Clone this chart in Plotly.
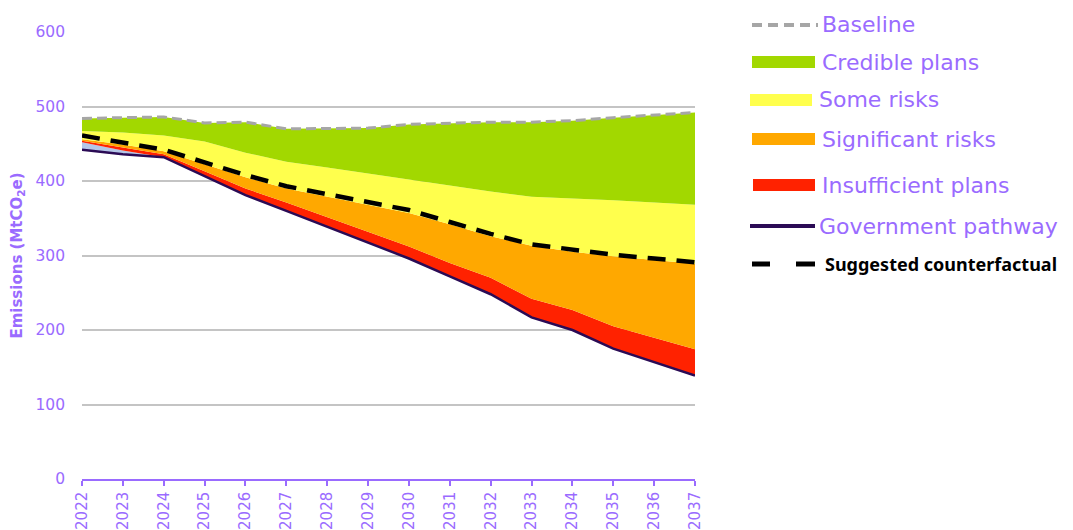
import plotly.graph_objects as go

years = list(range(2022, 2038))
baseline = [484, 485, 486, 478, 479, 470, 471, 471, 476, 478, 479, 479, 481, 485, 488, 492]
yellow_top = [467, 465, 461, 453, 438, 426, 418, 410, 401, 393, 386, 379, 377, 374, 371, 368]
orange_top = [456, 449, 440, 423, 405, 390, 379, 369, 357, 342, 326, 313, 305, 299, 294, 289]
red_top = [454, 445, 436, 413, 390, 371, 351, 331, 312, 290, 270, 242, 227, 205, 189, 174]
blue_top = [452, 441, 432, 407, 381, 360, 339, 317, 296, 272, 248, 217, 200, 175, 157, 139]
government = [442, 436, 432, 407, 381, 360, 339, 317, 296, 272, 248, 217, 200, 175, 157, 139]
counterfactual = [461, 452, 442, 425, 408, 393, 382, 372, 361, 345, 329, 315, 308, 301, 296, 291]

legend_labels = ["Baseline", "Credible plans", "Some risks", "Significant risks",
                 "Insufficient plans", "Government pathway", "Suggested counterfactual"]
y_ticks = [0, 100, 200, 300, 400, 500, 600]

PURPLE = "#9a6bff"
GREEN = "#a2d800"
YELLOW = "#ffff4d"
ORANGE = "#ffa800"
RED = "#ff2200"
BLUE = "#b4c6e7"
GOV = "#2b0b55"
GREY = "#a6a6a6"

fig = go.Figure()

def area(y, color):
    fig.add_trace(go.Scatter(x=years, y=y, mode="lines", line=dict(width=0, color=color),
                             fill="tonexty", fillcolor=color, hoverinfo="skip", showlegend=False))

fig.add_trace(go.Scatter(x=years, y=government, mode="lines", line=dict(width=0),
                         hoverinfo="skip", showlegend=False))
area(blue_top, BLUE)
area(red_top, RED)
area(orange_top, ORANGE)
area(yellow_top, YELLOW)
area(baseline, GREEN)

fig.add_trace(go.Scatter(x=years, y=baseline, mode="lines",
                         line=dict(color=GREY, width=3, dash="10px,5px"), showlegend=False))
fig.add_trace(go.Scatter(x=years, y=counterfactual, mode="lines",
                         line=dict(color="black", width=4.5, dash="18px,11px"), showlegend=False))
fig.add_trace(go.Scatter(x=years, y=government, mode="lines",
                         line=dict(color=GOV, width=2.5), showlegend=False))

# page has an 8px body margin: figure is drawn offset by (8, 8)
OFF = 8
W = 1073 - OFF
H = 530 - OFF
ml, mr, mt, mb = 82 - OFF, 1073 - 695, 32 - OFF, 530 - 479
pw = W - ml - mr
ph = H - mt - mb

def px(x):
    return (x - OFF - ml) / pw

def py(y):
    return 1 - (y - OFF - mt) / ph

items = [
    ("dash", GREY, 25, 752, 818, 822),
    ("rect", GREEN, 62, 752, 815, 822),
    ("rect", YELLOW, 100, 750, 812, 819),
    ("rect", ORANGE, 139, 752, 815, 822),
    ("rect", RED, 185, 753, 815, 822),
    ("line", GOV, 226, 750, 815, 819),
    ("cf", "black", 264, 752, 815, 825),
]
for (kind, col, yc, xa, xb, xt), label in zip(items, legend_labels):
    if kind == "rect":
        fig.add_shape(type="rect", xref="paper", yref="paper",
                      x0=px(xa), x1=px(xb), y0=py(yc + 6), y1=py(yc - 6),
                      fillcolor=col, line=dict(width=0))
    elif kind == "dash":
        fig.add_shape(type="line", xref="paper", yref="paper",
                      x0=px(xa), x1=px(xb), y0=py(yc), y1=py(yc),
                      line=dict(color=col, width=4, dash="10px,6px"))
    elif kind == "line":
        fig.add_shape(type="line", xref="paper", yref="paper",
                      x0=px(xa), x1=px(xb), y0=py(yc), y1=py(yc),
                      line=dict(color=col, width=4))
    else:
        fig.add_shape(type="line", xref="paper", yref="paper",
                      x0=px(xa), x1=px(770), y0=py(yc), y1=py(yc),
                      line=dict(color=col, width=5))
        fig.add_shape(type="line", xref="paper", yref="paper",
                      x0=px(796), x1=px(xb), y0=py(yc), y1=py(yc),
                      line=dict(color=col, width=5))
    if kind == "cf":
        fig.add_annotation(xref="paper", yref="paper", x=px(xt), y=py(yc), text="<b>" + label + "</b>",
                           showarrow=False, xanchor="left", yanchor="middle", xshift=-2,
                           font=dict(family="Noto Sans", size=18, color="black"))
    else:
        fig.add_annotation(xref="paper", yref="paper", x=px(xt), y=py(yc), text=label,
                           showarrow=False, xanchor="left", yanchor="middle", xshift=-2,
                           font=dict(family="DejaVu Sans", size=22, color=PURPLE))

fig.update_layout(
    width=W, height=H,
    margin=dict(l=ml, r=mr, t=mt, b=mb, autoexpand=False),
    paper_bgcolor="white", plot_bgcolor="white",
    font=dict(family="DejaVu Sans", color=PURPLE),
    showlegend=False,
    xaxis=dict(range=[2022, 2037], tickvals=years, ticktext=[str(y) for y in years],
               tickangle=-90, showgrid=False, zeroline=False, showline=True, automargin=False,
               linecolor=PURPLE, linewidth=1.5, ticks="outside", ticklen=5,
               tickcolor=PURPLE, tickwidth=1.5, tickfont=dict(size=15, color=PURPLE)),
    yaxis=dict(range=[0, 600], tickvals=y_ticks, showgrid=True, gridcolor="#c4c4c4",
               gridwidth=2, zeroline=False, showline=False, ticks="", automargin=False,
               tickfont=dict(size=15.5, color=PURPLE), ticklabelstandoff=16,
               title=dict(text="<b>Emissions (MtCO<sub>2</sub>e)</b>", standoff=12,
                          font=dict(size=15, color=PURPLE))),
)

fig.write_html("out.html")
